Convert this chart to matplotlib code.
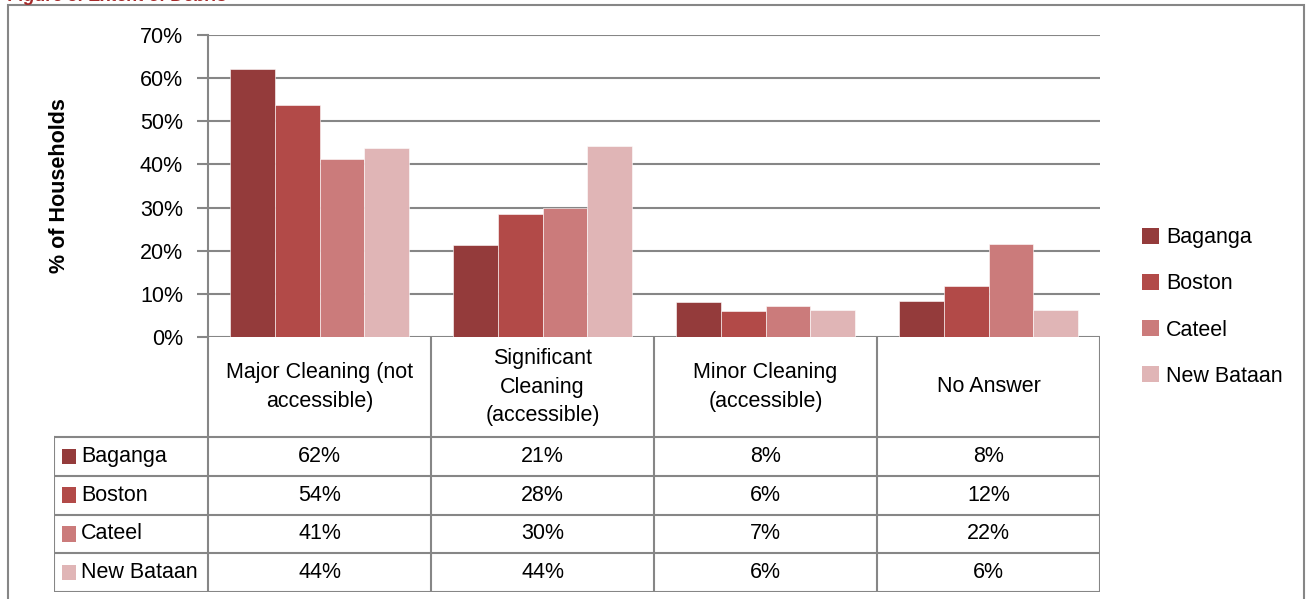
import matplotlib.pyplot as plt
from matplotlib.patches import Patch, Rectangle
from matplotlib.lines import Line2D

plt.rcParams['font.family'] = ['Liberation Sans', 'DejaVu Sans']

categories = ['Major Cleaning (not\naccessible)', 'Significant\nCleaning\n(accessible)',
              'Minor Cleaning\n(accessible)', 'No Answer']
series = ['Baganga', 'Boston', 'Cateel', 'New Bataan']
baganga = [62.1, 21.3, 8.1, 8.4]
boston = [53.8, 28.4, 6.0, 11.9]
cateel = [41.3, 29.9, 7.3, 21.6]
new_bataan = [43.9, 44.2, 6.3, 6.2]
table_labels = [['62%', '21%', '8%', '8%'],
                ['54%', '28%', '6%', '12%'],
                ['41%', '30%', '7%', '22%'],
                ['44%', '44%', '6%', '6%']]
colors = ['#943B3B', '#B24A48', '#CB7B7B', '#E0B5B6']
values = [baganga, boston, cateel, new_bataan]

W, H = 1307, 599
fig = plt.figure(figsize=(W / 100, H / 100), dpi=100)
GRID = '#868686'
FS = 15.5


def px(x0, y0, x1, y1):
    # pixel box (top-left origin) -> figure fraction rect
    return [x0 / W, 1 - y1 / H, (x1 - x0) / W, (y1 - y0) / H]


# outer frame
fig.patches.append(Rectangle((8 / W, -0.1), (1304 - 8) / W, 1 - 5 / H + 0.1,
                             transform=fig.transFigure, fill=False, edgecolor=GRID, lw=1.5))
fig.text(8 / W, 1 - 1 / H, 'Figure 5: Extent of Debris', color='#A52A2A', fontsize=13,
         fontweight='bold', style='italic', va='baseline', ha='left')

ax = fig.add_axes(px(208, 35, 1100, 337))
bw = 0.2
for i, (name, vals, c) in enumerate(zip(series, values, colors)):
    xs = [k + 0.1 + bw * (i + 0.5) for k in range(len(categories))]
    ax.bar(xs, vals, width=bw, color=c, edgecolor='white', linewidth=0.4, label=name, zorder=3)

ax.set_xlim(0, 4)
ax.set_ylim(0, 70)
ax.set_yticks(range(0, 71, 10))
ax.set_yticklabels([f'{v}%' for v in range(0, 71, 10)], fontsize=FS)
ax.set_xticks([])
ax.grid(axis='y', color=GRID, lw=1.5, zorder=0)
for s in ['top', 'right', 'bottom']:
    ax.spines[s].set_visible(False)
ax.spines['left'].set_color(GRID)
ax.spines['left'].set_linewidth(1.5)
ax.tick_params(axis='y', length=8, width=1.5, color=GRID, pad=10)
ax.set_ylabel('% of Households', fontsize=FS, fontweight='bold', labelpad=50)

handles = [Patch(facecolor=c, edgecolor='none') for c in colors]
fig.legend(handles, series, loc='center left', bbox_to_anchor=(1123 / W, 1 - 307 / H),
           frameon=False, fontsize=FS, handlelength=0.75, handleheight=0.75,
           handletextpad=0.35, labelspacing=1.17)

# data table below the plot
tab = fig.add_axes(px(54, 337, 1100, 592))
lab_w = 154 / 223
head_h = 100 / 38.75
tab.set_xlim(-lab_w, 4)
tab.set_ylim(head_h + 4, 0)
tab.axis('off')
lk = dict(color=GRID, lw=1.5)
for k in range(5):
    tab.add_line(Line2D([k, k], [0, head_h + 4], **lk))
tab.add_line(Line2D([-lab_w, -lab_w], [head_h, head_h + 4], **lk))
for r in range(5):
    y = head_h + r
    tab.add_line(Line2D([-lab_w, 4], [y, y], **lk))
for k, cat in enumerate(categories):
    tab.text(k + 0.5, head_h / 2, cat, ha='center', va='center', fontsize=FS, linespacing=1.45)
for r, (name, c) in enumerate(zip(series, colors)):
    y = head_h + r + 0.5
    tab.add_patch(Rectangle((-lab_w + 0.035, y - 0.2), 0.065, 0.4, facecolor=c, edgecolor='none'))
    tab.text(-lab_w + 0.12, y, name, ha='left', va='center', fontsize=FS)
    for k in range(4):
        tab.text(k + 0.5, y, table_labels[r][k], ha='center', va='center', fontsize=FS)

fig.savefig('out.png', dpi=100)
